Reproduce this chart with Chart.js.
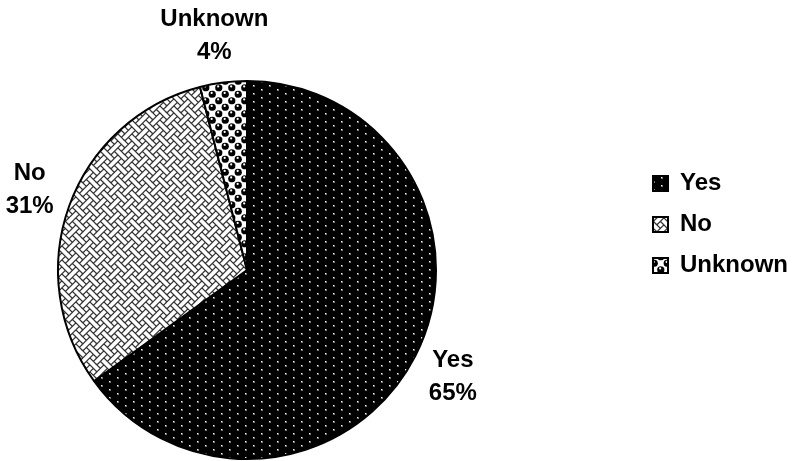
<!DOCTYPE html>
<html>
<head>
<meta charset="utf-8">
<script src="https://cdn.jsdelivr.net/npm/chart.js@4"></script>
<style>
  html, body { margin: 0; padding: 0; background: #fff; }
  #wrap { position: relative; width: 800px; height: 461px; overflow: hidden; }
  /* the plot canvas runs past the left edge so the pie sits left of centre */
  #chart { position: absolute; top: 0; left: -142px; }
</style>
</head>
<body>
<div id="wrap"><canvas id="chart" width="942" height="461"></canvas></div>
<script>
// Survey answers and their share of responses (%)
const categories = ['Yes', 'No', 'Unknown'];
const shares = [65, 31, 4];

const FONT = '"Liberation Sans", Arial, sans-serif';
const LABEL_SIZE = 24;

// Small repeating tiles used as slice fills (monochrome print-style patterns)
function makeTile(w, h, paint) {
  const cv = document.createElement('canvas');
  cv.width = w; cv.height = h;
  const g = cv.getContext('2d');
  paint(g, w, h);
  return g.createPattern(cv, 'repeat');
}

// Black with staggered light dots
const dottedFill = makeTile(16, 8, (g, w, h) => {
  g.fillStyle = '#000'; g.fillRect(0, 0, w, h);
  for (const [x, y] of [[3, 1], [11, 5]]) {
    g.fillStyle = '#7a7a7a'; g.fillRect(x, y, 2, 2);
    g.fillStyle = '#f0f0f0'; g.fillRect(x, y, 1, 1);
  }
});

// Weave: diagonal strokes joining neighbouring cells of an 8x8 bit pattern
const weaveBits = [0x88, 0x54, 0x22, 0x45, 0x88, 0x15, 0x22, 0x51];
const weaveFill = makeTile(14, 14, (g, w, h) => {
  const s = w / 8;
  const on = (x, y) => (weaveBits[(y + 8) % 8] & (0x80 >> ((x + 8) % 8))) !== 0;
  g.fillStyle = '#fff'; g.fillRect(0, 0, w, h);
  g.strokeStyle = '#333';
  g.lineWidth = 1.4;
  g.lineCap = 'round';
  g.beginPath();
  for (let y = -1; y <= 8; y++) {
    for (let x = -1; x <= 8; x++) {
      if (!on(x, y)) continue;
      for (const dx of [-1, 1]) {
        if (on(x + dx, y + 1)) {
          g.moveTo((x + 0.5) * s, (y + 0.5) * s);
          g.lineTo((x + dx + 0.5) * s, (y + 1.5) * s);
        }
      }
    }
  }
  g.stroke();
});

// Staggered shaded spheres on white
const sphereFill = makeTile(13, 13, (g, w, h) => {
  g.fillStyle = '#fff'; g.fillRect(0, 0, w, h);
  const centres = [[3.25, 3.25], [9.75, 9.75]];
  for (const [cx, cy] of centres) {
    for (const ox of [-w, 0, w]) for (const oy of [-h, 0, h]) {
      g.fillStyle = '#000';
      g.beginPath(); g.arc(cx + ox, cy + oy, 3.6, 0, Math.PI * 2); g.fill();
      g.fillStyle = '#fff';
      g.beginPath(); g.arc(cx + ox - 0.6, cy + oy - 1.3, 1.1, 0, Math.PI * 2); g.fill();
    }
  }
});

// Category + percentage labels placed just outside each slice
const sliceLabels = {
  id: 'sliceLabels',
  afterDatasetsDraw(chart) {
    const meta = chart.getDatasetMeta(0);
    const values = chart.data.datasets[0].data;
    const total = values.reduce((a, b) => a + b, 0);
    const ctx = chart.ctx;
    const lineGap = 33, gap = 18;
    ctx.save();
    ctx.font = `bold ${LABEL_SIZE}px ${FONT}`;
    ctx.fillStyle = '#000';
    ctx.textAlign = 'center';
    ctx.textBaseline = 'middle';
    meta.data.forEach((arc, i) => {
      const { x, y, startAngle, endAngle, outerRadius } =
        arc.getProps(['x', 'y', 'startAngle', 'endAngle', 'outerRadius'], true);
      const mid = (startAngle + endAngle) / 2;
      const ux = Math.cos(mid), uy = Math.sin(mid);
      const lines = [chart.data.labels[i], Math.round(values[i] / total * 100) + '%'];
      const w = Math.max(...lines.map(t => ctx.measureText(t).width));
      const h = lineGap + LABEL_SIZE;
      const d = outerRadius + gap;
      const cx = x + d * ux + ux * w / 2;
      const cy = y + d * uy + uy * h / 2;
      ctx.fillText(lines[0], cx, cy - lineGap / 2);
      ctx.fillText(lines[1], cx, cy + lineGap / 2);
    });
    ctx.restore();
  }
};

Chart.defaults.font.family = FONT;
Chart.defaults.color = '#000';

new Chart(document.getElementById('chart').getContext('2d'), {
  type: 'pie',
  data: {
    labels: categories,
    datasets: [{
      data: shares,
      backgroundColor: [dottedFill, weaveFill, sphereFill],
      borderColor: '#000',
      borderWidth: 2
    }]
  },
  options: {
    responsive: false,
    animation: false,
    layout: { padding: { left: 0, right: 2, top: 80, bottom: 1 } },
    plugins: {
      legend: {
        position: 'right',
        align: 'start',
        title: { display: true, text: '', padding: { top: 0, bottom: 60 } },
        labels: {
          boxWidth: 15,
          boxHeight: 15,
          padding: 17,
          color: '#000',
          font: { family: FONT, size: LABEL_SIZE, weight: 'bold' }
        }
      },
      tooltip: { enabled: false }
    }
  },
  plugins: [sliceLabels]
});
</script>
</body>
</html>
